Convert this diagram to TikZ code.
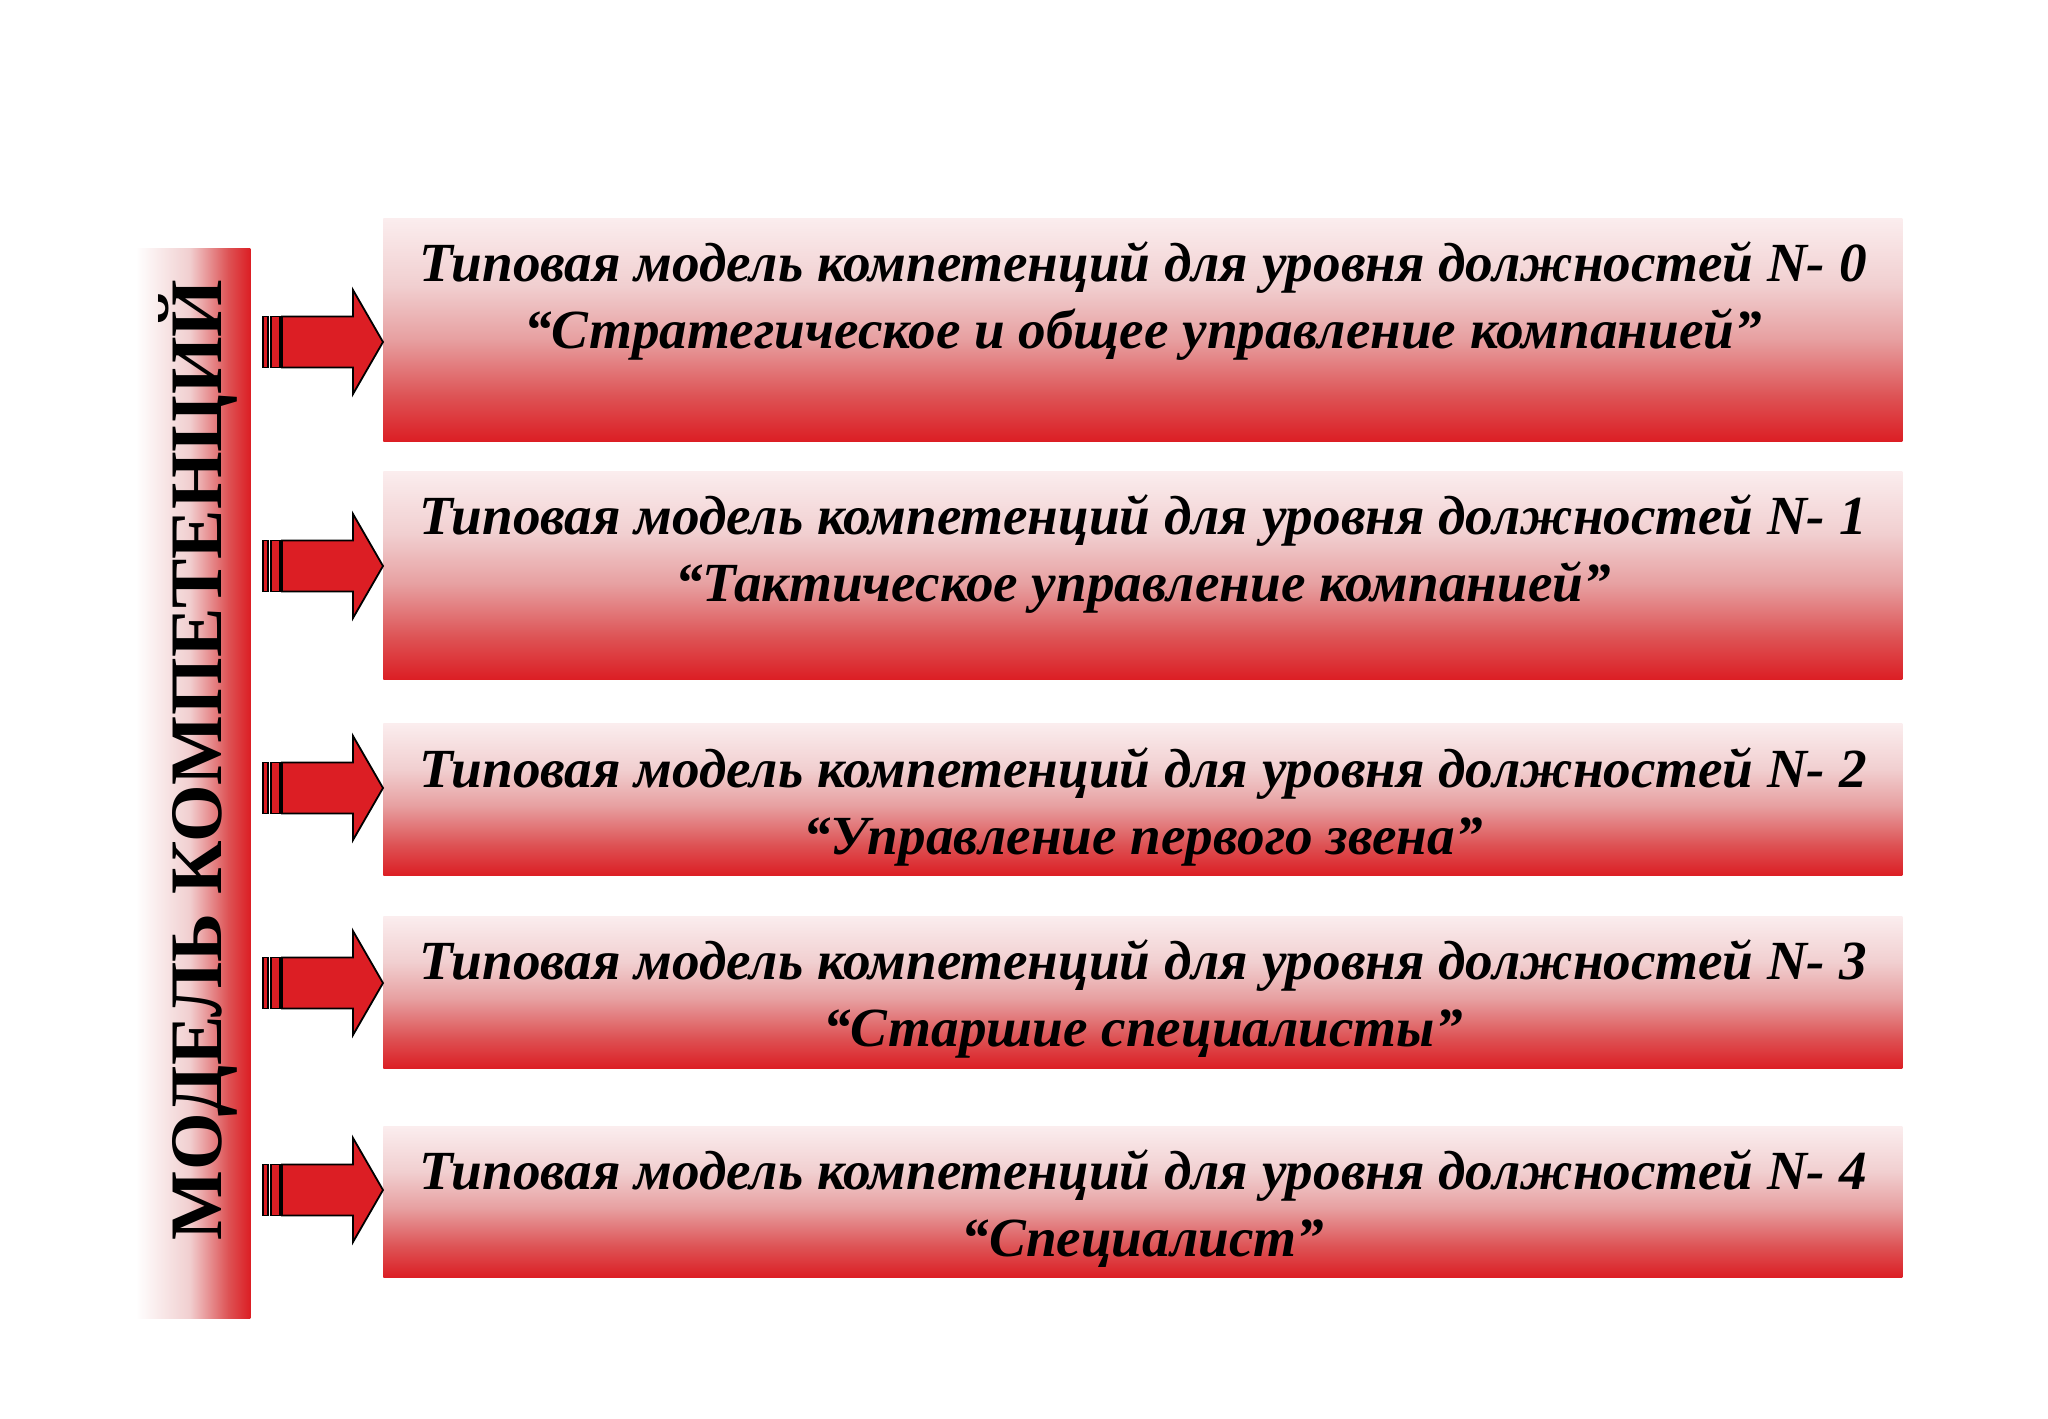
\documentclass[tikz,border=0pt]{standalone}
\usepackage{fontspec}
\setmainfont{Liberation Serif}
\definecolor{myred}{RGB}{220,30,36}
\definecolor{mypale}{RGB}{251,237,238}
\definecolor{mylight}{RGB}{241,207,208}
\definecolor{mymid}{RGB}{231,160,161}
\definecolor{mydeep}{RGB}{221,82,84}
\pgfdeclareverticalshading{boxshade}{100bp}{color(0bp)=(myred); color(25bp)=(myred); color(35bp)=(mydeep); color(48bp)=(mymid); color(60bp)=(mylight); color(75bp)=(mypale); color(100bp)=(mypale)}
\pgfdeclarehorizontalshading{barshade}{100bp}{color(0bp)=(white); color(25bp)=(white); color(28bp)=(white); color(50bp)=(mylight); color(66bp)=(mydeep); color(75bp)=(myred); color(100bp)=(myred)}
\tikzset{
  lvlbox/.style={shading=boxshade, anchor=north west, inner sep=0pt, minimum width=759.5pt},
  lvltext/.style={anchor=base, inner sep=0pt, font=\fontsize{27.6}{32}\selectfont\bfseries\itshape},
  arrfill/.style={fill=myred, draw=black, line width=0.9pt, line join=miter},
  pics/bigarrow/.style={code={
    \path[arrfill] (-120,-25.5) rectangle (-115,25.5);
    \path[arrfill] (-112,-25.5) rectangle (-103,25.5);
    \path[arrfill] (-101,-25.5) -- (-30,-25.5) -- (-30,-52) -- (0,0) -- (-30,52) -- (-30,25.5) -- (-101,25.5) -- cycle;
  }}
}
\begin{document}
\begin{tikzpicture}[x=0.5pt,y=-0.5pt]
\fill[white] (0,0) rectangle (2048,1418);
\useasboundingbox (0,0) rectangle (2048,1418);
% vertical bar
\node[shading=barshade, anchor=north west, inner sep=0pt, minimum width=61pt, minimum height=535pt] (bar) at (128,248) {};
\node[rotate=90, anchor=base, inner sep=0pt, font=\fontsize{37}{40}\selectfont\bfseries] (bartext) at (221,760) {МОДЕЛЬ КОМПЕТЕНЦИЙ};
% boxes
\node[lvlbox, minimum height=111.5pt] (b0) at (383,218) {};
\node[lvlbox, minimum height=104pt] (b1) at (383,471) {};
\node[lvlbox, minimum height=76pt] (b2) at (383,723) {};
\node[lvlbox, minimum height=76pt] (b3) at (383,916) {};
\node[lvlbox, minimum height=75.5pt] (b4) at (383,1126) {};
% texts
\node[lvltext] (t0a) at (1143,281) {Типовая модель компетенций для уровня должностей N- 0};
\node[lvltext] (t0b) at (1143,348) {“Стратегическое и общее управление компанией”};
\node[lvltext] (t1a) at (1143,534) {Типовая модель компетенций для уровня должностей N- 1};
\node[lvltext] (t1b) at (1143,601) {“Тактическое управление компанией”};
\node[lvltext] (t2a) at (1143,787) {Типовая модель компетенций для уровня должностей N- 2};
\node[lvltext] (t2b) at (1143,854) {“Управление первого звена”};
\node[lvltext] (t3a) at (1143,979) {Типовая модель компетенций для уровня должностей N- 3};
\node[lvltext] (t3b) at (1143,1046) {“Старшие специалисты”};
\node[lvltext] (t4a) at (1143,1189) {Типовая модель компетенций для уровня должностей N- 4};
\node[lvltext] (t4b) at (1143,1256) {“Специалист”};
% arrows
\pic at (383,342) {bigarrow};
\pic at (383,566) {bigarrow};
\pic at (383,788) {bigarrow};
\pic at (383,983) {bigarrow};
\pic at (383,1190) {bigarrow};
\end{tikzpicture}
\end{document}
